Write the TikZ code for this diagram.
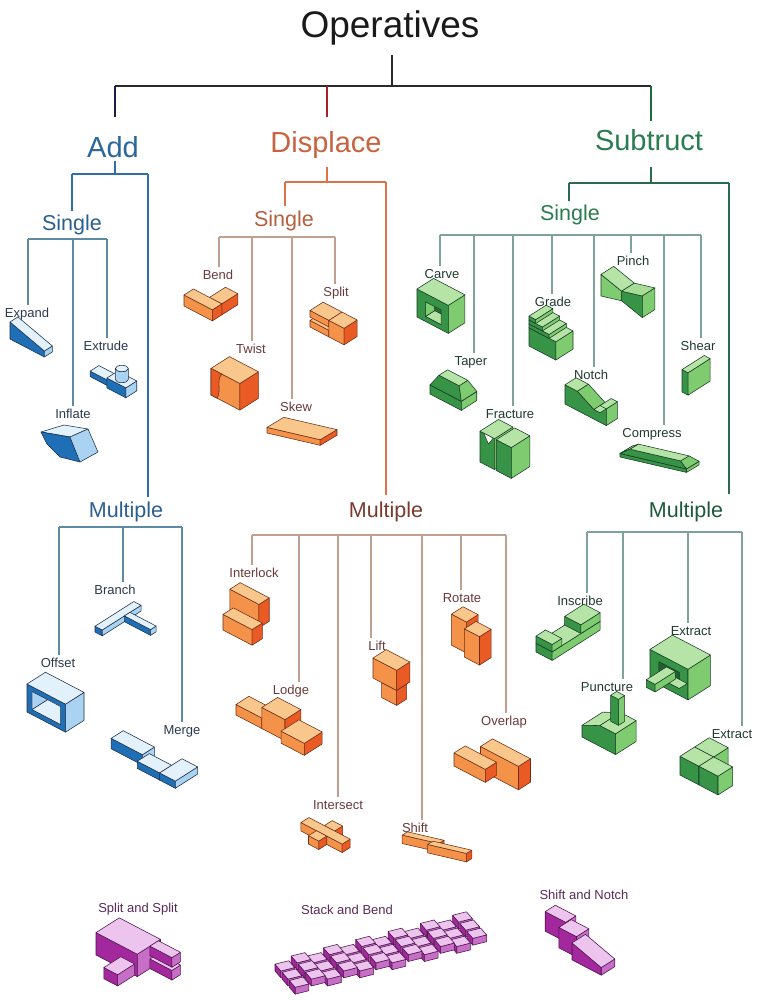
\documentclass[tikz,border=0pt]{standalone}
\usepackage{fontspec}
\setmainfont{Liberation Sans}
\usetikzlibrary{calc}
% face colours: A = front-left face, B = right face, C = top, O = outline
\definecolor{bA}{HTML}{1F6FB6}\definecolor{bB}{HTML}{A9D3F1}\definecolor{bC}{HTML}{E2F1FB}\definecolor{bO}{HTML}{1B2F4A}
\definecolor{oA}{HTML}{F4924A}\definecolor{oB}{HTML}{EA5A25}\definecolor{oC}{HTML}{F9C68C}\definecolor{oO}{HTML}{6E2E14}
\definecolor{gA}{HTML}{379447}\definecolor{gB}{HTML}{7FCB6F}\definecolor{gC}{HTML}{B6E3A6}\definecolor{gO}{HTML}{173D24}
\definecolor{pA}{HTML}{A3279D}\definecolor{pB}{HTML}{C76EC7}\definecolor{pC}{HTML}{EDC4ED}\definecolor{pO}{HTML}{4D124D}
\colorlet{cA}{bA}\colorlet{cB}{bB}\colorlet{cC}{bC}\colorlet{cO}{bO}
% text / line colours
\definecolor{ttlc}{HTML}{1A1A1A}
\definecolor{addc}{HTML}{2B679C}\definecolor{addsub}{HTML}{2B5F8F}\definecolor{addleafc}{HTML}{2A3A4C}
\definecolor{disc}{HTML}{C9623F}\definecolor{dissub}{HTML}{B4603F}\definecolor{dismul}{HTML}{7A3A2E}\definecolor{disleafc}{HTML}{6B3A3A}
\definecolor{subc}{HTML}{2A7D4F}\definecolor{submul}{HTML}{1D5A3A}\definecolor{subleafc}{HTML}{22392F}
\definecolor{botc}{HTML}{5A2A5A}
\definecolor{topc}{HTML}{2A2A2A}\definecolor{navy}{HTML}{1C1C48}\definecolor{crim}{HTML}{A8202C}\definecolor{sgreen}{HTML}{1F6A3C}
\definecolor{addlc}{HTML}{2E6FA7}\definecolor{addleaflc}{HTML}{5D8BA6}
\definecolor{dislc}{HTML}{E0724A}\definecolor{disleaflc}{HTML}{C2A090}
\definecolor{sublc}{HTML}{2A6A50}\definecolor{subleaflc}{HTML}{7FA39C}

\newcommand{\setfam}[1]{\colorlet{cA}{#1A}\colorlet{cB}{#1B}\colorlet{cC}{#1C}\colorlet{cO}{#1O}}
\newcommand{\ibox}[6]{%
  \filldraw[sh,fill=cA] (#1,#2,#3) -- (#4,#2,#3) -- (#4,#2,#6) -- (#1,#2,#6) -- cycle;
  \filldraw[sh,fill=cB] (#4,#2,#3) -- (#4,#5,#3) -- (#4,#5,#6) -- (#4,#2,#6) -- cycle;
  \filldraw[sh,fill=cC] (#1,#2,#6) -- (#4,#2,#6) -- (#4,#5,#6) -- (#1,#5,#6) -- cycle;}

\tikzset{
  sh/.style={draw=cO,line width=0.55pt,line join=round},
  iso/.style={x={(0.86*#1pt,-0.45*#1pt)},y={(0.66*#1pt,0.42*#1pt)},z={(0pt,#1pt)}},
  isof/.style={x={(0.95*#1pt,-0.22*#1pt)},y={(0.5*#1pt,0.3*#1pt)},z={(0pt,#1pt)}},
  ttl/.style={font=\fontsize{37}{40}\selectfont,text=ttlc,inner sep=0pt,anchor=base},
  hdr/.style={font=\fontsize{29}{32}\selectfont,inner sep=0pt,outer sep=3pt,anchor=base},
  subl/.style={font=\fontsize{21.5}{24}\selectfont,inner sep=0pt,outer sep=4pt,anchor=base},
  leaf/.style={font=\fontsize{13}{15}\selectfont,inner sep=0pt,outer sep=3pt,anchor=base},
  topl/.style={draw=topc,line width=1.6pt},
  addl/.style={draw=addlc,line width=1.5pt},
  addleaf/.style={draw=addleaflc,line width=1.1pt},
  disl/.style={draw=dislc,line width=1.5pt},
  disleaf/.style={draw=disleaflc,line width=1.1pt},
  subln/.style={draw=sublc,line width=1.5pt},
  subleaf/.style={draw=subleaflc,line width=1.1pt},
}

\begin{document}
\begin{tikzpicture}[x=1pt,y=-1pt]
\useasboundingbox (0,0) rectangle (762,1000);
\fill[white] (0,0) rectangle (762,1000);

% ---------------- labels ----------------
\node[ttl] (op) at (390,38) {Operatives};
\node[hdr,text=addc] (add) at (113,158) {Add};
\node[hdr,text=disc] (dis) at (326,153) {Displace};
\node[hdr,text=subc] (sub) at (649,151) {Subtruct};

\node[subl,text=addsub] (asg) at (72,231) {Single};
\node[subl,text=addsub] (amu) at (126,517) {Multiple};
\node[subl,text=dissub] (dsg) at (284,226) {Single};
\node[subl,text=dismul] (dmu) at (386,517) {Multiple};
\node[subl,text=subc] (ssg) at (570,221) {Single};
\node[subl,text=submul] (smu) at (686,517) {Multiple};

\begin{scope}[every node/.append style={leaf,text=addleafc}]
\node (lexp) at (27,317) {Expand};
\node (lext) at (106,350) {Extrude};
\node (linf) at (73,418) {Inflate};
\node (lbra) at (115,594) {Branch};
\node (loff) at (58,667) {Offset};
\node (lmer) at (182,734) {Merge};
\end{scope}
\begin{scope}[every node/.append style={leaf,text=disleafc}]
\node (lben) at (218,279) {Bend};
\node (lspl) at (336,296) {Split};
\node (ltwi) at (251,353) {Twist};
\node (lske) at (296,411) {Skew};
\node (lint) at (254,577) {Interlock};
\node (llod) at (291,694) {Lodge};
\node (lits) at (338,809) {Intersect};
\node (llif) at (377,650) {Lift};
\node (lshi) at (415,832) {Shift};
\node (lrot) at (462,602) {Rotate};
\node (love) at (504,725) {Overlap};
\end{scope}
\begin{scope}[every node/.append style={leaf,text=subleafc}]
\node (lcar) at (442,278) {Carve};
\node (ltap) at (471,365) {Taper};
\node (lfra) at (510,418) {Fracture};
\node (lgra) at (553,306) {Grade};
\node (lnot) at (591,379) {Notch};
\node (lpin) at (633,265) {Pinch};
\node (lcom) at (652,437) {Compress};
\node (lshe) at (698,350) {Shear};
\node (lins) at (580,605) {Inscribe};
\node (lex1) at (691,635) {Extract};
\node (lpun) at (607,691) {Puncture};
\node (lex2) at (732,738) {Extract};
\end{scope}
\begin{scope}[every node/.append style={leaf,text=botc}]
\node (bss) at (138,912) {Split and Split};
\node (bsb) at (347,914) {Stack and Bend};
\node (bsn) at (584,899) {Shift and Notch};
\end{scope}

% ---------------- top tree ----------------
\coordinate (tstem) at (392,55);
\coordinate (tj) at (392,86);
\coordinate (tA) at (115,86);
\coordinate (tD) at (327,86);
\coordinate (tS) at (651,86);
\coordinate (tAe) at (115,117);
\coordinate (tDe) at (327,117);
\coordinate (tSe) at (651,121);
\draw[topl] (tstem) -- (tj);
\draw[topl] (tA) -- (tS);
\draw[draw=navy,line width=1.6pt] (tA) -- (tAe);
\draw[draw=crim,line width=1.6pt] (tD) -- (tDe);
\draw[draw=sgreen,line width=1.6pt] (tS) -- (tSe);

% ---------------- Add tree ----------------
\coordinate (aj) at (115,174);
\coordinate (ajl) at (72,174);
\coordinate (ajr) at (148,174);
\draw[addl] (add.south -| aj) -- (aj);
\draw[addl] (ajl) -- (ajr);
\draw[addl] (ajl) -- (asg.north);
\draw[addl] (ajr) -- (amu.north -| ajr);
\coordinate (al1) at (28,239);\coordinate (al2) at (73,239);\coordinate (al3) at (107,239);
\draw[addleaf] (al1) -- (al3);
\draw[addleaf] (al1) -- (lexp.north -| al1);
\draw[addleaf] (al2) -- (linf.north -| al2);
\draw[addleaf] (al3) -- (lext.north -| al3);
\coordinate (am1) at (59,527);\coordinate (am2) at (123,527);\coordinate (am3) at (182,527);
\draw[addleaf] (am1) -- (am3);
\draw[addleaf] (am1) -- (loff.north -| am1);
\draw[addleaf] (am2) -- (lbra.north -| am2);
\draw[addleaf] (am3) -- (lmer.north -| am3);

% ---------------- Displace tree ----------------
\coordinate (dj) at (327,182);
\coordinate (djl) at (285,182);
\coordinate (djr) at (386,182);
\draw[disl] ([yshift=-5pt]dis.south -| dj) -- (dj);
\draw[disl] (djl) -- (djr);
\draw[disl] (djl) -- (dsg.north -| djl);
\draw[disl] (djr) -- ([yshift=2pt]dmu.north -| djr);
\coordinate (ds1) at (219,237);\coordinate (ds2) at (252,237);\coordinate (ds3) at (292,237);\coordinate (ds4) at (335,237);
\draw[disleaf] (ds1) -- (ds4);
\draw[disleaf] (ds1) -- (lben.north -| ds1);
\draw[disleaf] (ds2) -- (ltwi.north -| ds2);
\draw[disleaf] (ds3) -- (lske.north -| ds3);
\draw[disleaf] (ds4) -- (lspl.north -| ds4);
\coordinate (dm1) at (252,535);\coordinate (dm2) at (299,535);\coordinate (dm3) at (338,535);\coordinate (dm4) at (371,535);
\coordinate (dm5) at (422,535);\coordinate (dm6) at (461,535);\coordinate (dm7) at (506,535);
\draw[disleaf] (dm1) -- (dm7);
\draw[disleaf] (dm1) -- (lint.north -| dm1);
\draw[disleaf] (dm2) -- (llod.north -| dm2);
\draw[disleaf] (dm3) -- (lits.north -| dm3);
\draw[disleaf] (dm4) -- (llif.north -| dm4);
\draw[disleaf] (dm5) -- (lshi.north -| dm5);
\draw[disleaf] (dm6) -- (lrot.north -| dm6);
\draw[disleaf] (dm7) -- (love.north -| dm7);

% ---------------- Subtract tree ----------------
\coordinate (sj) at (651,183);
\coordinate (sjl) at (569,183);
\coordinate (sjr) at (729,183);
\draw[subln] ([yshift=-13pt]sub.south -| sj) -- (sj);
\draw[subln] (sjl) -- (sjr);
\draw[subln] (sjl) -- (ssg.north -| sjl);
\draw[subln] (sjr) -- ([yshift=3pt]smu.north -| sjr);
\coordinate (ss1) at (440,235);\coordinate (ss2) at (474,235);\coordinate (ss3) at (513,235);\coordinate (ss4) at (552,235);
\coordinate (ss5) at (594,235);\coordinate (ss6) at (631,235);\coordinate (ss7) at (664,235);\coordinate (ss8) at (701,235);
\draw[subleaf] (ss1) -- (ss8);
\draw[subleaf] (ss1) -- (lcar.north -| ss1);
\draw[subleaf] (ss2) -- (ltap.north -| ss2);
\draw[subleaf] (ss3) -- (lfra.north -| ss3);
\draw[subleaf] (ss4) -- (lgra.north -| ss4);
\draw[subleaf] (ss5) -- (lnot.north -| ss5);
\draw[subleaf] (ss6) -- (lpin.north -| ss6);
\draw[subleaf] (ss7) -- (lcom.north -| ss7);
\draw[subleaf] (ss8) -- (lshe.north -| ss8);
\coordinate (sm1) at (587,532);\coordinate (sm2) at (623,532);\coordinate (sm3) at (688,532);\coordinate (sm4) at (742,532);
\draw[subleaf] (sm1) -- (sm4);
\draw[subleaf] (sm1) -- (lins.north -| sm1);
\draw[subleaf] (sm2) -- (lpun.north -| sm2);
\draw[subleaf] (sm3) -- (lex1.north -| sm3);
\draw[subleaf] (sm4) -- (lex2.north -| sm4);

% ================= BLUE SHAPES =================
\setfam{b}
% Expand
\begin{scope}[shift={(10,339)},iso=10]
  \filldraw[sh,fill=cA] (0,0,0) -- (4,0,0) -- (4,0,0.6) -- (0,0,1.7) -- cycle;
  \filldraw[sh,fill=cB] (4,0,0) -- (4,1.2,0) -- (4,1.2,0.6) -- (4,0,0.6) -- cycle;
  \filldraw[sh,fill=cC] (0,0,1.7) -- (4,0,0.6) -- (4,1.2,0.6) -- (0,1.2,1.7) -- cycle;
\end{scope}
% Extrude
\begin{scope}[shift={(88,378)},iso=11]
  \ibox{0}{0.3}{0}{2}{1.5}{0.5}
  \ibox{2}{0}{0}{4}{1.5}{0.9}
  \coordinate (cyl) at (3,0.75,0.9);
  \filldraw[sh,fill=cB] ([xshift=-6.5pt]cyl) -- ++(0pt,11pt) arc[start angle=180,end angle=360,x radius=6.5pt,y radius=3.2pt] -- ++(0pt,-11pt) arc[start angle=0,end angle=-180,x radius=6.5pt,y radius=3.2pt] -- cycle;
  \filldraw[sh,fill=cC] ([yshift=11pt]cyl) ellipse[x radius=6.5pt,y radius=3.2pt];
\end{scope}
% Inflate
\filldraw[sh,fill=bC] (41,432) -- (64,425) -- (88,429) -- (70,437) -- cycle;
\filldraw[sh,fill=bA] (41,432) -- (70,437) -- (80,462) -- (60,457) -- (47,444) -- cycle;
\filldraw[sh,fill=bB] (70,437) -- (88,429) -- (98,452) -- (80,462) -- cycle;
% Branch
\begin{scope}[shift={(95,632)},iso=10.5]
  \ibox{0}{0}{0}{0.8}{5.6}{0.55}
  \ibox{0.8}{3.2}{0}{3.7}{4}{0.55}
\end{scope}
% Offset
\begin{scope}[shift={(27,712)},iso=14]
  \ibox{0}{0}{0}{3.2}{2}{2}
  \begin{scope}
    \clip (0.4,0,0.35) -- (2.8,0,0.35) -- (2.8,0,1.65) -- (0.4,0,1.65) -- cycle;
    \fill[white] (0.4,0,0.35) -- (2.8,0,0.35) -- (2.8,0,1.65) -- (0.4,0,1.65) -- cycle;
    \filldraw[sh,fill=cC] (0.4,0,0.35) -- (2.8,0,0.35) -- (2.8,2,0.35) -- (0.4,2,0.35) -- cycle;
    \filldraw[sh,fill=cB] (0.4,0,0.35) -- (0.4,2,0.35) -- (0.4,2,1.65) -- (0.4,0,1.65) -- cycle;
    \filldraw[sh,fill=bA!70!black] (2.2,2,1.0) -- (2.8,2,1.0) -- (2.8,2,1.65) -- (2.2,2,1.65) -- cycle;
  \end{scope}
  \draw[sh] (0.4,0,0.35) -- (2.8,0,0.35) -- (2.8,0,1.65) -- (0.4,0,1.65) -- cycle;
\end{scope}
% Merge
\begin{scope}[shift={(106,752)},iso=13]
  \ibox{0}{0.6}{0}{2.8}{2}{0.8}
  \ibox{2.8}{0}{0}{4.8}{1.4}{0.55}
  \ibox{4.8}{0}{0}{6.2}{2.6}{0.55}
\end{scope}

% ================= ORANGE SHAPES =================
\setfam{o}
% Bend
\begin{scope}[shift={(184,306)},iso=11]
  \ibox{1.7}{1.3}{0}{3}{3.5}{1}
  \ibox{0}{0}{0}{3}{1.3}{1}
\end{scope}
% Split
\begin{scope}[shift={(310,327)},iso=11]
  \ibox{0}{0}{0}{2}{1.8}{0.6}
  \ibox{0}{0}{0.9}{2}{1.8}{1.5}
  \ibox{2}{0}{0}{3.6}{1.8}{1.5}
\end{scope}
% Twist
\begin{scope}[shift={(211,395)},iso=14]
  \ibox{0}{0}{0}{2.4}{2}{1.9}
  \filldraw[sh,fill=cB] (0,0,0) -- (0,0,1.9) -- (0.9,0,1.9) .. controls (0.4,0,1.2) and (0.9,0,0.7) .. (0.5,0,0) -- cycle;
\end{scope}
% Skew
\begin{scope}[shift={(267,433)},isof=14]
  \ibox{0}{0}{0}{4}{2.4}{0.4}
\end{scope}
% Interlock
\begin{scope}[shift={(223,630)},iso=13]
  \ibox{0}{0.8}{1.0}{2.6}{2}{2.8}
  \ibox{0}{0}{0}{2.6}{1.2}{1.2}
\end{scope}
% Lodge
\begin{scope}[shift={(236,715)},iso=15]
  \ibox{0}{0}{0}{2}{1.3}{0.7}
  \ibox{2}{0}{0}{3.8}{1.6}{1.4}
  \ibox{3.8}{-0.4}{0}{5.6}{1.4}{0.8}
\end{scope}
% Intersect
\begin{scope}[shift={(293,836)},iso=12]
  \ibox{1.5}{2}{0}{2.5}{3}{0.7}
  \ibox{0}{1}{0}{4}{2}{0.7}
  \ibox{1.5}{0}{0}{2.5}{1}{0.7}
\end{scope}
% Lift
\begin{scope}[shift={(373,693)},iso=12.5]
  \ibox{0.8}{0}{0}{2.2}{1.2}{1.2}
  \ibox{0}{0}{1.2}{2.2}{1.6}{2.8}
\end{scope}
% Shift
\begin{scope}[shift={(398,846)},isof=12]
  \ibox{0}{0.7}{0}{3.2}{1.6}{0.7}
  \ibox{2.6}{0}{0}{6}{0.9}{0.7}
\end{scope}
% Rotate
\begin{scope}[shift={(447,648)},iso=13.5]
  \ibox{0}{0.5}{0}{1.3}{1.8}{2.3}
  \ibox{1.5}{0}{0}{2.8}{1.3}{2.1}
\end{scope}
% Overlap
\begin{scope}[shift={(454,766)},iso=13]
  \ibox{1.6}{1}{0}{5}{2.4}{1.8}
  \ibox{0}{0}{0}{2.8}{1.3}{1}
\end{scope}

% ================= GREEN SHAPES =================
\setfam{g}
% Carve
\begin{scope}[shift={(417,317)},iso=14]
  \ibox{0}{0}{0}{2.6}{1.8}{2}
  \begin{scope}
    \clip (0.7,0,0.35) -- (2.0,0,0.35) -- (2.0,0,1.4) -- (0.7,0,1.4) -- cycle;
    \filldraw[sh,fill=gA!75!black] (0.7,1,0.35) -- (2.0,1,0.35) -- (2.0,1,1.4) -- (0.7,1,1.4) -- cycle;
    \filldraw[sh,fill=cC] (0.7,0,0.35) -- (2.0,0,0.35) -- (2.0,1,0.35) -- (0.7,1,0.35) -- cycle;
    \filldraw[sh,fill=cB] (0.7,0,0.35) -- (0.7,1,0.35) -- (0.7,1,1.4) -- (0.7,0,1.4) -- cycle;
  \end{scope}
  \draw[sh] (0.7,0,0.35) -- (2.0,0,0.35) -- (2.0,0,1.4) -- (0.7,0,1.4) -- cycle;
\end{scope}
% Taper
\begin{scope}[shift={(430,394)},iso=13]
  \ibox{0}{0}{0}{2.8}{1.8}{0.7}
  \filldraw[sh,fill=cA] (0,0,0.7) -- (2.8,0,0.7) -- (2.3,0.4,1.5) -- (0.5,0.4,1.5) -- cycle;
  \filldraw[sh,fill=cB] (2.8,0,0.7) -- (2.8,1.8,0.7) -- (2.3,1.4,1.5) -- (2.3,0.4,1.5) -- cycle;
  \filldraw[sh,fill=cC] (0.5,0.4,1.5) -- (2.3,0.4,1.5) -- (2.3,1.4,1.5) -- (0.5,1.4,1.5) -- cycle;
\end{scope}
% Fracture
\begin{scope}[shift={(480,462)},iso=14]
  \ibox{0}{0}{0}{1.2}{2}{2.2}
  \ibox{1.35}{0}{0}{2.6}{2}{2.2}
  \filldraw[sh,fill=white] (0.3,0,2.2) -- (0.7,0,1.6) -- (1.1,0,2.2) -- cycle;
\end{scope}
% Grade
\begin{scope}[shift={(529,346)},iso=13]
  \ibox{0}{0}{0}{2.4}{2}{1.4}
  \ibox{0}{0}{1.4}{1.8}{2}{1.7}
  \ibox{0}{0}{1.7}{1.2}{2}{2.0}
  \ibox{0}{0}{2.0}{0.6}{2}{2.3}
\end{scope}
% Pinch
\begin{scope}[shift={(601,296)},iso=12]
  \filldraw[sh,fill=cB] (0,0,0) -- (2,0,0.5) -- (2,0,1.3) -- (0,0,1.8) -- cycle;
  \filldraw[sh,fill=cA] (2,0,0.5) -- (4,0,0) -- (4,0,1.8) -- (2,0,1.3) -- cycle;
  \filldraw[sh,fill=cC] (0,0,1.8) -- (2,0,1.3) -- (2,1.6,1.3) -- (0,1.6,1.8) -- cycle;
  \filldraw[sh,fill=cC!75!cB] (2,0,1.3) -- (4,0,1.8) -- (4,1.6,1.8) -- (2,1.6,1.3) -- cycle;
  \filldraw[sh,fill=cB] (4,0,0) -- (4,1.6,0) -- (4,1.6,1.8) -- (4,0,1.8) -- cycle;
\end{scope}
% Notch
\begin{scope}[shift={(565,404)},iso=12]
  \filldraw[sh,fill=cA] (0,0,0) -- (4,0,0) -- (4,0,1.4) -- (3.4,0,1.4) -- (3.4,0,0.8) -- (2.8,0,0.8) -- (1.2,0,1.6) -- (0,0,1.6) -- cycle;
  \filldraw[sh,fill=cB] (4,0,0) -- (4,1.4,0) -- (4,1.4,1.4) -- (4,0,1.4) -- cycle;
  \filldraw[sh,fill=cC] (0,0,1.6) -- (1.2,0,1.6) -- (1.2,1.4,1.6) -- (0,1.4,1.6) -- cycle;
  \filldraw[sh,fill=cB] (1.2,0,1.6) -- (2.8,0,0.8) -- (2.8,1.4,0.8) -- (1.2,1.4,1.6) -- cycle;
  \filldraw[sh,fill=cC] (2.8,0,0.8) -- (3.4,0,0.8) -- (3.4,1.4,0.8) -- (2.8,1.4,0.8) -- cycle;
  \filldraw[sh,fill=cC] (3.4,0,1.4) -- (4,0,1.4) -- (4,1.4,1.4) -- (3.4,1.4,1.4) -- cycle;
\end{scope}
% Shear
\begin{scope}[shift={(682,392)},iso=14]
  \ibox{0}{0}{0}{0.5}{2.4}{1.6}
\end{scope}
% Compress
\begin{scope}[shift={(620,457)},isof=14]
  \ibox{0}{0}{0}{5}{1.8}{0.25}
  \filldraw[sh,fill=cC!70!cB] (0,0,0.25) -- (0.6,0.3,0.6) -- (0.6,1.5,0.6) -- (0,1.8,0.25) -- cycle;
  \filldraw[sh,fill=cA] (0,0,0.25) -- (5,0,0.25) -- (4.4,0.3,0.6) -- (0.6,0.3,0.6) -- cycle;
  \filldraw[sh,fill=cB] (5,0,0.25) -- (5,1.8,0.25) -- (4.4,1.5,0.6) -- (4.4,0.3,0.6) -- cycle;
  \filldraw[sh,fill=cC] (0.6,0.3,0.6) -- (4.4,0.3,0.6) -- (4.4,1.5,0.6) -- (0.6,1.5,0.6) -- cycle;
\end{scope}
% Inscribe
\begin{scope}[shift={(536,652)},iso=14.5]
  \ibox{0}{0}{0}{1.3}{5}{0.6}
  \ibox{0}{3}{0.6}{1.3}{5}{1.2}
  \ibox{0}{0}{0.6}{1.3}{1}{1.1}
\end{scope}
% Extract (upper)
\begin{scope}[shift={(650,680)},iso=17]
  \ibox{0}{0}{0}{2.6}{2}{1.8}
  \filldraw[sh,fill=gA!65!black] (0.6,0,0.4) -- (2.0,0,0.4) -- (2.0,0,1.35) -- (0.6,0,1.35) -- cycle;
  \filldraw[sh,fill=cC] (0.6,0,0.4) -- (2.0,0,0.4) -- (2.0,0.7,0.4) -- (0.6,0.7,0.4) -- cycle;
  \ibox{0.9}{-1.5}{0.6}{1.5}{0.3}{1.05}
\end{scope}
% Puncture
\begin{scope}[shift={(582,737)},iso=13]
  \filldraw[sh,fill=cA] (0,0,0) -- (3,0,0) -- (3,0,1.6) -- (1.6,0,1.6) -- (0,0,0.9) -- cycle;
  \filldraw[sh,fill=cB] (3,0,0) -- (3,2.4,0) -- (3,2.4,1.6) -- (3,0,1.6) -- cycle;
  \filldraw[sh,fill=cC] (0,0,0.9) -- (1.6,0,1.6) -- (1.6,2.4,1.6) -- (0,2.4,0.9) -- cycle;
  \filldraw[sh,fill=cC] (1.6,0,1.6) -- (3,0,1.6) -- (3,2.4,1.6) -- (1.6,2.4,1.6) -- cycle;
  \ibox{1.8}{1.0}{1.6}{2.5}{1.7}{3.6}
\end{scope}
% Extract (lower)
\begin{scope}[shift={(680,775)},iso=17]
  \ibox{0}{1.3}{0}{1.3}{2.6}{1.1}
  \ibox{0}{0}{0}{1.3}{1.3}{1.1}
  \ibox{1.3}{0}{0}{2.6}{1.3}{1.1}
\end{scope}

% ================= PURPLE SHAPES =================
\setfam{p}
% Split and Split
\begin{scope}[shift={(96,955)},iso=16]
  \ibox{0}{0}{0}{3}{2.2}{1.4}
  \ibox{3}{1.2}{0}{4.6}{2}{0.6}
  \ibox{3}{1.2}{0.8}{4.6}{2}{1.4}
  \ibox{1.8}{-1.6}{0}{2.8}{0}{0.7}
\end{scope}
% Stack and Bend
\begin{scope}[shift={(275,971)},x={(5.95pt,-6.8pt)},y={(16.15pt,4.08pt)},z={(0pt,13.6pt)}]
  \foreach \k in {11,10,...,0}{
    \foreach \r in {0,1,2}{
      \pgfmathsetmacro{\zz}{0.3*mod(\k,2)}
      \ibox{\r*1.2}{\k}{\zz}{\r*1.2+1}{\k+0.85}{\zz+0.5}
    }}
\end{scope}
% Shift and Notch
\begin{scope}[shift={(534,940)},iso=17]
  \ibox{0}{1.0}{0.1}{1.4}{1.9}{1.25}
  \ibox{1.4}{0.4}{0}{2.6}{1.5}{1.2}
  \filldraw[sh,fill=cA] (2.6,0,0) -- (4.6,0,0) -- (4.6,0,0.45) -- (2.6,0,1.0) -- cycle;
  \filldraw[sh,fill=cB] (4.6,0,0) -- (4.6,1.2,0) -- (4.6,1.2,0.45) -- (4.6,0,0.45) -- cycle;
  \filldraw[sh,fill=cC] (2.6,0,1.0) -- (4.6,0,0.45) -- (4.6,1.2,0.45) -- (2.6,1.2,1.0) -- cycle;
\end{scope}
\end{tikzpicture}
\end{document}
